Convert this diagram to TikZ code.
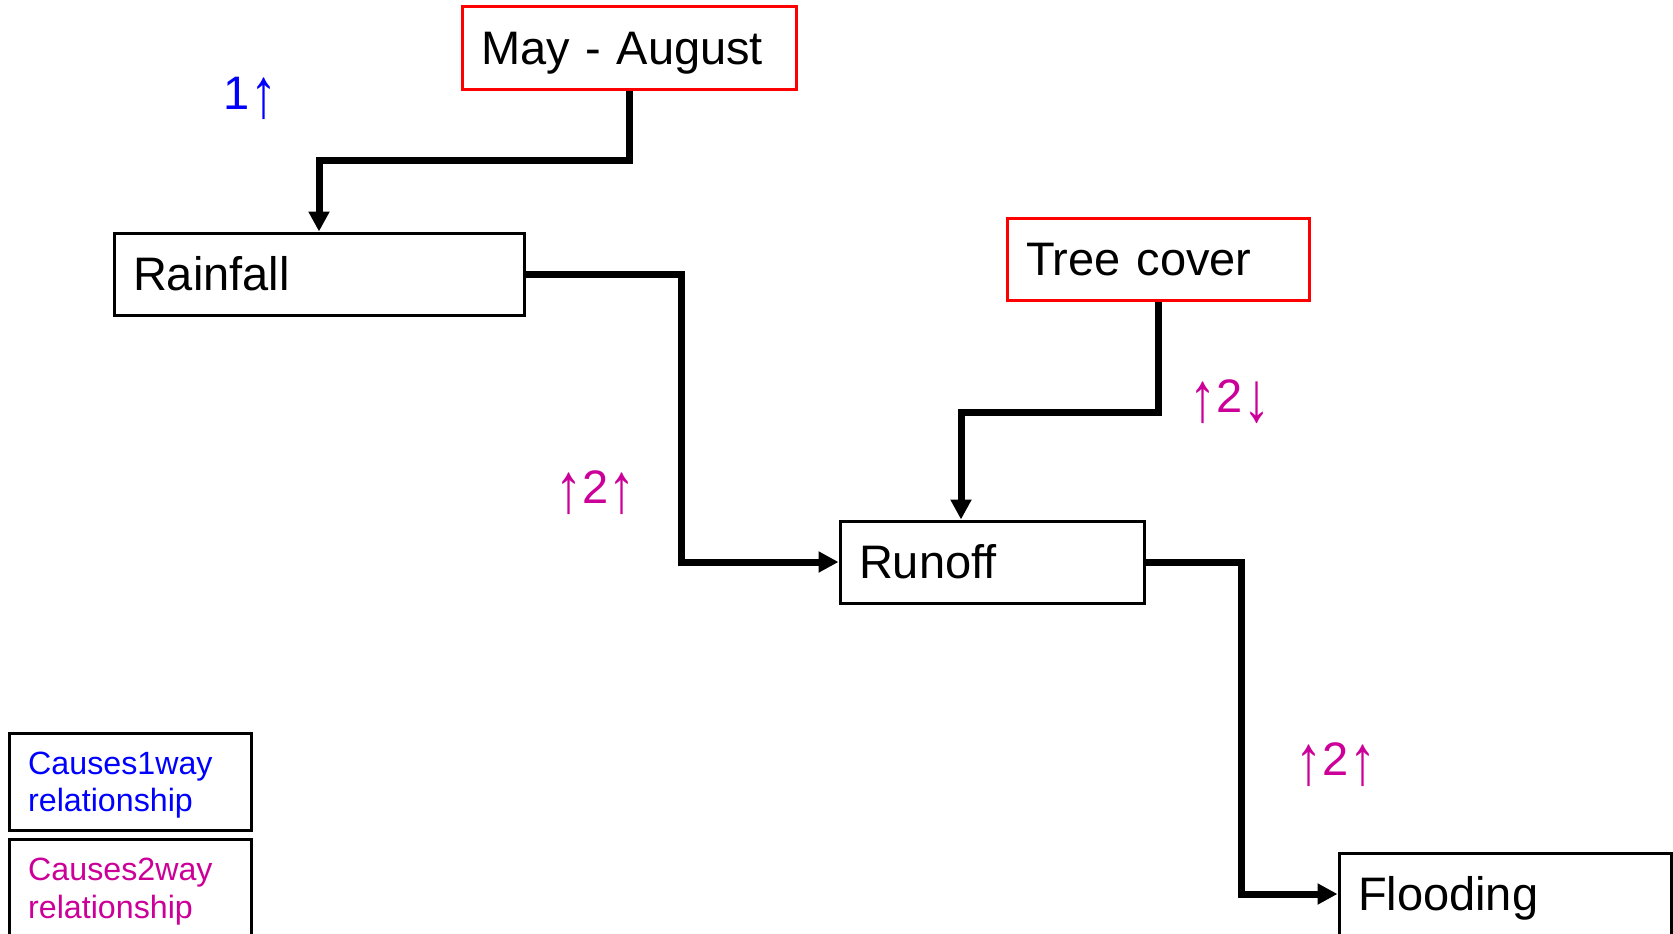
\documentclass[tikz,border=0pt]{standalone}
\usepackage{fontspec}
\usepackage{graphicx}
\setmainfont{Liberation Sans}
\usetikzlibrary{arrows.meta}
\definecolor{pinkish}{RGB}{204,0,153}
\newcommand{\uarr}{\raisebox{-9pt}{\scalebox{1.15}[1.5]{↑}}}
\newcommand{\darr}{\raisebox{-9pt}{\scalebox{1.15}[1.5]{↓}}}
\tikzset{
  box/.style={draw=black, line width=3pt, inner xsep=19pt, inner ysep=0pt,
    font=\fontsize{47}{56}\selectfont, text height=33.7pt, text depth=0pt,
    align=left, minimum height=82pt},
  redbox/.style={box, draw=red},
  conn/.style={line width=7pt, -{Triangle[length=20pt,width=20pt]}},
  legbox/.style={draw=black, line width=3pt, minimum width=242pt, minimum height=97pt, inner sep=0pt},
  legtext/.style={font=\fontsize{32.2}{37}\selectfont, anchor=base west, inner sep=0pt},
  lab/.style={font=\fontsize{47}{56}\selectfont, anchor=base, inner sep=0pt, text=pinkish},
}
\begin{document}
\begin{tikzpicture}[x=1pt,y=-1pt]
\useasboundingbox (0,0) rectangle (1673,934);
\clip (0,0) rectangle (1673,934);
\fill[white] (0,0) rectangle (1673,934);

\node[redbox, minimum width=334pt, text width=296pt] (may) at (629,48) {May - August};
\node[box, minimum width=410pt, text width=372pt] (rain) at (319,274) {Rainfall};
\node[redbox, minimum width=302pt, text width=264pt] (tree) at (1158,259) {Tree cover};
\node[box, minimum width=304pt, text width=266pt] (run) at (992,562) {Runoff};
\node[box, minimum width=332pt, text width=294pt] (flood) at (1505,894) {Flooding};

\coordinate (c1) at (319,160);
\coordinate (c2) at (681,562);
\coordinate (c3) at (961,412);
\coordinate (c4) at (1241,894);

\draw[conn] (may.south) |- (c1) -- (rain.north);
\draw[conn] (rain.east) -| (c2) -- (run.west);
\draw[conn] (tree.south) |- (c3) -- (c3 |- run.north);
\draw[conn] (run.east) -| (c4) -- (flood.west);

\node[lab, text=blue] (l1) at (250.5,109) {1\uarr};
\node[lab] (l2) at (595.5,503) {\uarr2\uarr};
\node[lab] (l3) at (1230,412) {\uarr2\darr};
\node[lab] (l4) at (1336,775) {\uarr2\uarr};

\node[legbox] (leg1) at (130,781.5) {};
\node[legtext, text=blue] (leg1a) at (28,774) {Causes1way};
\node[legtext, text=blue] (leg1b) at (28,811) {relationship};
\node[legbox] (leg2) at (130,887.5) {};
\node[legtext, text=pinkish] (leg2a) at (28,880) {Causes2way};
\node[legtext, text=pinkish] (leg2b) at (28,918) {relationship};
\end{tikzpicture}
\end{document}
